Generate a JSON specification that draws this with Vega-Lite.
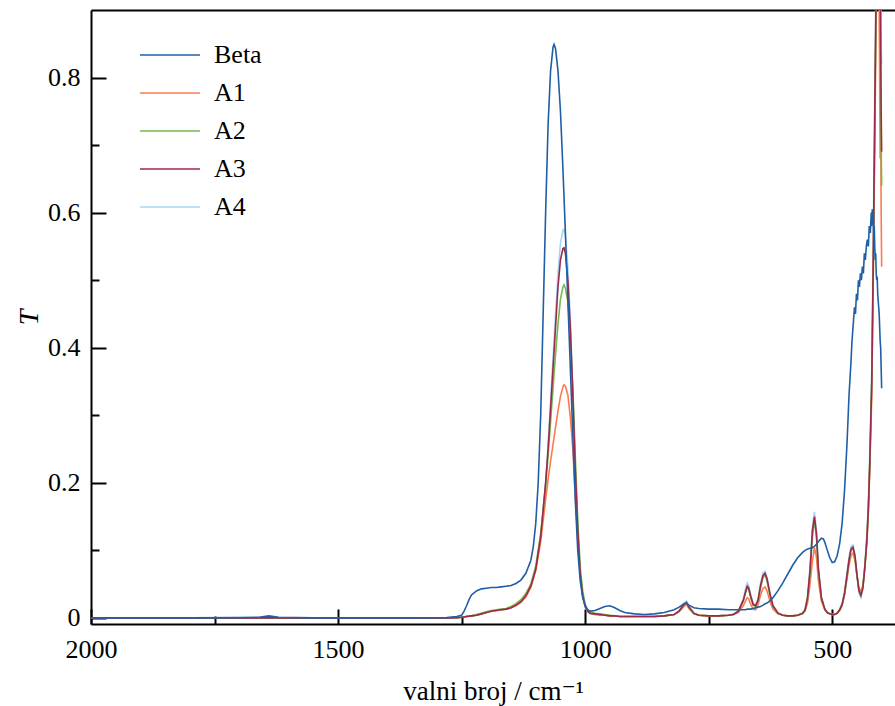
{
  "$schema": "https://vega.github.io/schema/vega-lite/v6.json",
  "width": 804,
  "height": 614,
  "autosize": {"type": "none"},
  "padding": {"left": 91, "top": 10, "right": 0, "bottom": 82},
  "background": "white",
  "config": {
    "view": {"stroke": null},
    "font": "'Liberation Serif', 'Times New Roman', Times, 'DejaVu Serif', serif",
    "axis": {"labelFont": "'Liberation Serif', 'Times New Roman', Times, 'DejaVu Serif', serif", "titleFont": "'Liberation Serif', 'Times New Roman', Times, 'DejaVu Serif', serif"}
  },
  "data": {"values": [
    {"w": 2000, "Beta": 0, "A1": 0, "A2": 0, "A3": 0, "A4": 0},
    {"w": 1900, "Beta": 0, "A1": 0, "A2": 0, "A3": 0, "A4": 0},
    {"w": 1800, "Beta": 0, "A1": 0, "A2": 0, "A3": 0, "A4": 0},
    {"w": 1700, "Beta": 0.0005, "A1": 0, "A2": 0, "A3": 0, "A4": 0},
    {"w": 1660, "Beta": 0.001, "A1": 0, "A2": 0, "A3": 0, "A4": 0},
    {"w": 1640, "Beta": 0.003, "A1": 0.0005, "A2": 0.0005, "A3": 0.0005, "A4": 0.0005},
    {"w": 1620, "Beta": 0.001, "A1": 0, "A2": 0, "A3": 0, "A4": 0},
    {"w": 1550, "Beta": 0, "A1": 0, "A2": 0, "A3": 0, "A4": 0},
    {"w": 1450, "Beta": 0, "A1": 0, "A2": 0, "A3": 0, "A4": 0},
    {"w": 1350, "Beta": 0, "A1": 0, "A2": 0, "A3": 0, "A4": 0},
    {"w": 1280, "Beta": 0.0005, "A1": 0, "A2": 0, "A3": 0, "A4": 0},
    {"w": 1260, "Beta": 0.002, "A1": 0.0005, "A2": 0.0005, "A3": 0.0005, "A4": 0.0005},
    {"w": 1250, "Beta": 0.004, "A1": 0.001, "A2": 0.001, "A3": 0.001, "A4": 0.001},
    {"w": 1245, "Beta": 0.01},
    {"w": 1240, "Beta": 0.018, "A1": 0.002, "A2": 0.002, "A3": 0.002, "A4": 0.002},
    {"w": 1235, "Beta": 0.027},
    {"w": 1230, "Beta": 0.034, "A1": 0.003, "A2": 0.003, "A3": 0.003, "A4": 0.003},
    {"w": 1220, "Beta": 0.04, "A1": 0.004, "A2": 0.005, "A3": 0.004, "A4": 0.004},
    {"w": 1210, "Beta": 0.043, "A1": 0.006, "A2": 0.007, "A3": 0.006, "A4": 0.006},
    {"w": 1200, "Beta": 0.044, "A1": 0.008, "A2": 0.009, "A3": 0.008, "A4": 0.008},
    {"w": 1190, "Beta": 0.045, "A1": 0.01, "A2": 0.011, "A3": 0.01, "A4": 0.01},
    {"w": 1180, "Beta": 0.045, "A1": 0.011, "A2": 0.012, "A3": 0.011, "A4": 0.011},
    {"w": 1170, "Beta": 0.046, "A1": 0.012, "A2": 0.013, "A3": 0.012, "A4": 0.012},
    {"w": 1160, "Beta": 0.047, "A1": 0.013, "A2": 0.014, "A3": 0.013, "A4": 0.013},
    {"w": 1150, "Beta": 0.048, "A1": 0.015, "A2": 0.017, "A3": 0.015, "A4": 0.015},
    {"w": 1140, "Beta": 0.051, "A1": 0.018, "A2": 0.021, "A3": 0.019, "A4": 0.019},
    {"w": 1130, "Beta": 0.056, "A1": 0.023, "A2": 0.027, "A3": 0.024, "A4": 0.024},
    {"w": 1120, "Beta": 0.066, "A1": 0.031, "A2": 0.036, "A3": 0.033, "A4": 0.033},
    {"w": 1110, "Beta": 0.085, "A1": 0.045, "A2": 0.05, "A3": 0.047, "A4": 0.047},
    {"w": 1105, "Beta": 0.105},
    {"w": 1100, "Beta": 0.14, "A1": 0.07, "A2": 0.077, "A3": 0.072, "A4": 0.072},
    {"w": 1095, "Beta": 0.2},
    {"w": 1090, "Beta": 0.3, "A1": 0.113, "A2": 0.125, "A3": 0.12, "A4": 0.12},
    {"w": 1085, "Beta": 0.45},
    {"w": 1080, "Beta": 0.6, "A1": 0.175, "A2": 0.195, "A3": 0.2, "A4": 0.2},
    {"w": 1075, "Beta": 0.73, "A1": 0.205, "A2": 0.24, "A3": 0.25, "A4": 0.255},
    {"w": 1070, "Beta": 0.81, "A1": 0.232, "A2": 0.29, "A3": 0.31, "A4": 0.32},
    {"w": 1065, "Beta": 0.845, "A1": 0.257, "A2": 0.34, "A3": 0.37, "A4": 0.385},
    {"w": 1063, "Beta": 0.849},
    {"w": 1060, "Beta": 0.843, "A1": 0.282, "A2": 0.39, "A3": 0.43, "A4": 0.45},
    {"w": 1055, "Beta": 0.81, "A1": 0.306, "A2": 0.435, "A3": 0.49, "A4": 0.51},
    {"w": 1050, "Beta": 0.75, "A1": 0.328, "A2": 0.472, "A3": 0.53, "A4": 0.555},
    {"w": 1045, "Beta": 0.665, "A1": 0.342, "A2": 0.49, "A3": 0.547, "A4": 0.574},
    {"w": 1043, "A1": 0.345, "A2": 0.493, "A3": 0.548, "A4": 0.575},
    {"w": 1040, "Beta": 0.57, "A1": 0.343, "A2": 0.488, "A3": 0.54, "A4": 0.565},
    {"w": 1035, "Beta": 0.47, "A1": 0.33, "A2": 0.468, "A3": 0.5, "A4": 0.52},
    {"w": 1030, "Beta": 0.37, "A1": 0.297, "A2": 0.42, "A3": 0.43, "A4": 0.44},
    {"w": 1025, "Beta": 0.27, "A1": 0.25, "A2": 0.34, "A3": 0.33, "A4": 0.335},
    {"w": 1020, "Beta": 0.175, "A1": 0.18, "A2": 0.24, "A3": 0.22, "A4": 0.22},
    {"w": 1015, "Beta": 0.1, "A1": 0.115, "A2": 0.145, "A3": 0.13, "A4": 0.13},
    {"w": 1010, "Beta": 0.055, "A1": 0.065, "A2": 0.075, "A3": 0.065, "A4": 0.065},
    {"w": 1005, "Beta": 0.03, "A1": 0.034, "A2": 0.04, "A3": 0.033, "A4": 0.032},
    {"w": 1000, "Beta": 0.018, "A1": 0.018, "A2": 0.02, "A3": 0.017, "A4": 0.016},
    {"w": 995, "Beta": 0.012, "A1": 0.01, "A2": 0.012, "A3": 0.01, "A4": 0.009},
    {"w": 990, "Beta": 0.01, "A1": 0.007, "A2": 0.009, "A3": 0.007, "A4": 0.006},
    {"w": 980, "Beta": 0.011, "A1": 0.005, "A2": 0.007, "A3": 0.006, "A4": 0.005},
    {"w": 970, "Beta": 0.014, "A1": 0.004, "A2": 0.006, "A3": 0.005, "A4": 0.004},
    {"w": 960, "Beta": 0.017, "A1": 0.004, "A2": 0.005, "A3": 0.004, "A4": 0.004},
    {"w": 950, "Beta": 0.018, "A1": 0.003, "A2": 0.004, "A3": 0.003, "A4": 0.003},
    {"w": 940, "Beta": 0.015, "A1": 0.003, "A2": 0.003, "A3": 0.003, "A4": 0.003},
    {"w": 930, "Beta": 0.011, "A1": 0.002, "A2": 0.002, "A3": 0.002, "A4": 0.002},
    {"w": 920, "Beta": 0.008, "A1": 0.002, "A2": 0.002, "A3": 0.002, "A4": 0.002},
    {"w": 900, "Beta": 0.006, "A1": 0.002, "A2": 0.002, "A3": 0.002, "A4": 0.002},
    {"w": 880, "Beta": 0.005, "A1": 0.002, "A2": 0.002, "A3": 0.002, "A4": 0.002},
    {"w": 860, "Beta": 0.006, "A1": 0.002, "A2": 0.002, "A3": 0.002, "A4": 0.002},
    {"w": 840, "Beta": 0.008, "A1": 0.003, "A2": 0.003, "A3": 0.003, "A4": 0.003},
    {"w": 820, "Beta": 0.012, "A1": 0.005, "A2": 0.005, "A3": 0.005, "A4": 0.005},
    {"w": 810, "Beta": 0.016, "A1": 0.009, "A2": 0.01, "A3": 0.01, "A4": 0.011},
    {"w": 800, "Beta": 0.021, "A1": 0.017, "A2": 0.019, "A3": 0.02, "A4": 0.022},
    {"w": 795, "Beta": 0.022, "A1": 0.02, "A2": 0.022, "A3": 0.023, "A4": 0.025},
    {"w": 790, "Beta": 0.019, "A1": 0.014, "A2": 0.015, "A3": 0.016, "A4": 0.018},
    {"w": 780, "Beta": 0.015, "A1": 0.006, "A2": 0.006, "A3": 0.007, "A4": 0.007},
    {"w": 770, "Beta": 0.014, "A1": 0.004, "A2": 0.004, "A3": 0.004, "A4": 0.004},
    {"w": 750, "Beta": 0.013, "A1": 0.003, "A2": 0.003, "A3": 0.003, "A4": 0.003},
    {"w": 730, "Beta": 0.013, "A1": 0.003, "A2": 0.003, "A3": 0.003, "A4": 0.003},
    {"w": 710, "Beta": 0.012, "A1": 0.004, "A2": 0.004, "A3": 0.004, "A4": 0.004},
    {"w": 700, "Beta": 0.012, "A1": 0.005, "A2": 0.005, "A3": 0.005, "A4": 0.006},
    {"w": 690, "Beta": 0.012, "A1": 0.008, "A2": 0.01, "A3": 0.01, "A4": 0.011},
    {"w": 680, "Beta": 0.012, "A1": 0.018, "A2": 0.025, "A3": 0.026, "A4": 0.028},
    {"w": 675, "Beta": 0.012, "A1": 0.026, "A2": 0.038, "A3": 0.04, "A4": 0.045},
    {"w": 672, "Beta": 0.013, "A1": 0.03, "A2": 0.045, "A3": 0.047, "A4": 0.052},
    {"w": 669, "Beta": 0.013, "A1": 0.028, "A2": 0.042, "A3": 0.044, "A4": 0.048},
    {"w": 665, "Beta": 0.013, "A1": 0.02, "A2": 0.03, "A3": 0.032, "A4": 0.035},
    {"w": 660, "Beta": 0.014, "A1": 0.013, "A2": 0.019, "A3": 0.02, "A4": 0.021},
    {"w": 655, "Beta": 0.015, "A1": 0.012, "A2": 0.017, "A3": 0.018, "A4": 0.019},
    {"w": 650, "Beta": 0.016, "A1": 0.02, "A2": 0.026, "A3": 0.027, "A4": 0.029},
    {"w": 645, "Beta": 0.017, "A1": 0.034, "A2": 0.045, "A3": 0.048, "A4": 0.052},
    {"w": 640, "Beta": 0.019, "A1": 0.044, "A2": 0.06, "A3": 0.063, "A4": 0.067},
    {"w": 636, "Beta": 0.021, "A1": 0.046, "A2": 0.064, "A3": 0.066, "A4": 0.069},
    {"w": 632, "Beta": 0.022, "A1": 0.04, "A2": 0.055, "A3": 0.058, "A4": 0.06},
    {"w": 625, "Beta": 0.026, "A1": 0.022, "A2": 0.03, "A3": 0.032, "A4": 0.033},
    {"w": 620, "Beta": 0.03, "A1": 0.013, "A2": 0.017, "A3": 0.018, "A4": 0.019},
    {"w": 610, "Beta": 0.04, "A1": 0.006, "A2": 0.007, "A3": 0.007, "A4": 0.008},
    {"w": 600, "Beta": 0.052, "A1": 0.004, "A2": 0.004, "A3": 0.004, "A4": 0.004},
    {"w": 590, "Beta": 0.065, "A1": 0.003, "A2": 0.003, "A3": 0.003, "A4": 0.003},
    {"w": 580, "Beta": 0.078, "A1": 0.003, "A2": 0.003, "A3": 0.003, "A4": 0.003},
    {"w": 570, "Beta": 0.089, "A1": 0.004, "A2": 0.004, "A3": 0.004, "A4": 0.004},
    {"w": 560, "Beta": 0.097, "A1": 0.006, "A2": 0.006, "A3": 0.007, "A4": 0.007},
    {"w": 555, "Beta": 0.1, "A1": 0.01, "A2": 0.011, "A3": 0.012, "A4": 0.013},
    {"w": 550, "Beta": 0.102, "A1": 0.022, "A2": 0.028, "A3": 0.03, "A4": 0.032},
    {"w": 545, "Beta": 0.103, "A1": 0.05, "A2": 0.065, "A3": 0.07, "A4": 0.075},
    {"w": 540, "Beta": 0.104, "A1": 0.085, "A2": 0.12, "A3": 0.13, "A4": 0.135},
    {"w": 536, "Beta": 0.106, "A1": 0.104, "A2": 0.145, "A3": 0.15, "A4": 0.157},
    {"w": 532, "Beta": 0.109, "A1": 0.09, "A2": 0.12, "A3": 0.125, "A4": 0.13},
    {"w": 528, "Beta": 0.113, "A1": 0.055, "A2": 0.07, "A3": 0.072, "A4": 0.075},
    {"w": 522, "Beta": 0.118, "A1": 0.025, "A2": 0.03, "A3": 0.03, "A4": 0.032},
    {"w": 518, "Beta": 0.117},
    {"w": 515, "Beta": 0.112, "A1": 0.012, "A2": 0.012, "A3": 0.013, "A4": 0.013},
    {"w": 510, "Beta": 0.1, "A1": 0.008, "A2": 0.008, "A3": 0.008, "A4": 0.008},
    {"w": 505, "Beta": 0.089, "A1": 0.006, "A2": 0.006, "A3": 0.006, "A4": 0.006},
    {"w": 500, "Beta": 0.082, "A1": 0.005, "A2": 0.005, "A3": 0.005, "A4": 0.005},
    {"w": 495, "Beta": 0.083, "A1": 0.005, "A2": 0.005, "A3": 0.005, "A4": 0.005},
    {"w": 490, "Beta": 0.092, "A1": 0.007, "A2": 0.007, "A3": 0.007, "A4": 0.007},
    {"w": 485, "Beta": 0.11, "A1": 0.011, "A2": 0.011, "A3": 0.012, "A4": 0.013},
    {"w": 480, "Beta": 0.14, "A1": 0.019, "A2": 0.019, "A3": 0.02, "A4": 0.022},
    {"w": 475, "Beta": 0.19, "A1": 0.035, "A2": 0.035, "A3": 0.037, "A4": 0.04},
    {"w": 470, "Beta": 0.26, "A1": 0.058, "A2": 0.062, "A3": 0.064, "A4": 0.068},
    {"w": 466, "Beta": 0.33, "A1": 0.078, "A2": 0.084, "A3": 0.086, "A4": 0.09},
    {"w": 462, "Beta": 0.38, "A1": 0.092, "A2": 0.1, "A3": 0.102, "A4": 0.106},
    {"w": 460, "Beta": 0.41},
    {"w": 458, "A1": 0.096, "A2": 0.103, "A3": 0.105, "A4": 0.108},
    {"w": 457, "Beta": 0.44},
    {"w": 455, "Beta": 0.46},
    {"w": 454, "A1": 0.085, "A2": 0.09, "A3": 0.092, "A4": 0.094},
    {"w": 453, "Beta": 0.45},
    {"w": 451, "Beta": 0.48},
    {"w": 450, "A1": 0.062, "A2": 0.064, "A3": 0.064, "A4": 0.063},
    {"w": 449, "Beta": 0.47},
    {"w": 447, "Beta": 0.5},
    {"w": 446, "A1": 0.045, "A2": 0.042, "A3": 0.04, "A4": 0.037},
    {"w": 445, "Beta": 0.49},
    {"w": 443, "Beta": 0.51},
    {"w": 442, "A1": 0.039, "A2": 0.036, "A3": 0.033, "A4": 0.03},
    {"w": 441, "Beta": 0.5},
    {"w": 439, "Beta": 0.52},
    {"w": 438, "A1": 0.048, "A2": 0.046, "A3": 0.044, "A4": 0.043},
    {"w": 437, "Beta": 0.51},
    {"w": 435, "Beta": 0.54},
    {"w": 434, "A1": 0.075, "A2": 0.075, "A3": 0.075, "A4": 0.08},
    {"w": 433, "Beta": 0.53},
    {"w": 431, "Beta": 0.55},
    {"w": 430, "A1": 0.11, "A2": 0.115, "A3": 0.115, "A4": 0.125},
    {"w": 429, "Beta": 0.56},
    {"w": 427, "Beta": 0.55, "A1": 0.155, "A2": 0.16, "A3": 0.16, "A4": 0.17},
    {"w": 425, "Beta": 0.58},
    {"w": 424, "A1": 0.22, "A2": 0.23, "A3": 0.23, "A4": 0.245},
    {"w": 423, "Beta": 0.57},
    {"w": 421, "Beta": 0.6},
    {"w": 420, "Beta": 0.58, "A1": 0.33, "A2": 0.35, "A3": 0.35, "A4": 0.37},
    {"w": 419, "Beta": 0.605},
    {"w": 418, "Beta": 0.59},
    {"w": 417, "Beta": 0.6, "A1": 0.5, "A2": 0.52, "A3": 0.53, "A4": 0.56},
    {"w": 416, "Beta": 0.57},
    {"w": 415, "Beta": 0.58},
    {"w": 414, "Beta": 0.55, "A1": 0.7, "A2": 0.72, "A3": 0.74, "A4": 0.78},
    {"w": 413, "Beta": 0.53},
    {"w": 412, "Beta": 0.54},
    {"w": 411, "Beta": 0.51, "A1": 0.9, "A2": 0.93, "A3": 0.95, "A4": 0.98},
    {"w": 410, "Beta": 0.5},
    {"w": 409, "Beta": 0.505},
    {"w": 408, "Beta": 0.48, "A1": 1.05, "A2": 1.1, "A3": 1.12, "A4": 1.15},
    {"w": 407, "Beta": 0.47},
    {"w": 406, "Beta": 0.46},
    {"w": 405, "Beta": 0.45, "A1": 0.9, "A2": 1.15, "A3": 1.2, "A4": 1.2},
    {"w": 404, "Beta": 0.43},
    {"w": 403, "Beta": 0.41, "A1": 0.68, "A2": 0.95, "A3": 1.05, "A4": 1.1},
    {"w": 402, "Beta": 0.4, "A1": 0.75, "A2": 0.8, "A3": 0.85, "A4": 0.95},
    {"w": 401, "Beta": 0.37, "A1": 0.6, "A2": 0.7, "A3": 0.75, "A4": 0.85},
    {"w": 400, "Beta": 0.34, "A1": 0.52, "A2": 0.64, "A3": 0.69, "A4": 0.82}
  ]},
  "transform": [
    {"fold": ["A4", "A1", "A2", "A3", "Beta"], "as": ["series", "T"]},
    {"filter": "isValid(datum.T)"}
  ],
  "mark": {"type": "line", "clip": true, "strokeWidth": 1.6, "invalid": "filter"},
  "encoding": {
    "x": {
      "field": "w", "type": "quantitative",
      "scale": {"domain": [2000, 373], "nice": false, "zero": false},
      "axis": {
        "values": [2000, 1750, 1500, 1250, 1000, 750, 500],
        "labelExpr": "datum.value % 500 === 0 ? datum.label : ''",
        "format": "d",
        "labelFlush": false,
        "labelOverlap": false,
        "grid": false,
        "domainColor": "black", "domainWidth": 2,
        "tickColor": "black", "tickWidth": 2,
        "tickSize": {"condition": {"test": "datum.value % 500 === 0", "value": -15}, "value": -8},
        "labelPadding": 27,
        "labelFontSize": 26, "labelColor": "black",
        "title": "valni broj / cm⁻¹",
        "titleFontSize": 27, "titleFontWeight": "normal", "titleColor": "black",
        "titlePadding": 9
      }
    },
    "y": {
      "field": "T", "type": "quantitative",
      "scale": {"domain": [-0.009, 0.9], "nice": false, "zero": false},
      "axis": {
        "values": [0, 0.1, 0.2, 0.3, 0.4, 0.5, 0.6, 0.7, 0.8, 0.9],
        "labelExpr": "datum.value > 0.85 ? '' : (round(datum.value * 10) % 2 === 0 ? (datum.value === 0 ? '0' : format(datum.value, '.1f')) : '')",
        "labelOverlap": false,
        "labelFlush": false,
        "grid": true,
        "gridColor": "black",
        "gridWidth": 2,
        "gridOpacity": {"condition": {"test": "datum.value > 0.85", "value": 1}, "value": 0},
        "domainColor": "black", "domainWidth": 2,
        "tickColor": "black", "tickWidth": 2,
        "tickOpacity": {"condition": {"test": "datum.value > 0.85", "value": 0}, "value": 1},
        "tickSize": {"condition": {"test": "round(datum.value * 10) % 2 === 0", "value": -15}, "value": -8},
        "labelPadding": 26,
        "labelFontSize": 26, "labelColor": "black",
        "title": "T",
        "titleFontSize": 28, "titleFontStyle": "italic", "titleFontWeight": "normal", "titleColor": "black",
        "titlePadding": 4
      }
    },
    "color": {
      "field": "series", "type": "nominal",
      "scale": {"domain": ["Beta", "A1", "A2", "A3", "A4"], "range": ["#1f5fa6", "#fb7a4f", "#77b84e", "#9b2a4a", "#a8d4f2"]},
      "legend": {
        "orient": "none", "legendX": 66, "legendY": 32, "title": null,
        "symbolType": "M-6,0H6", "symbolSize": 100, "symbolStrokeWidth": 1.6,
        "labelFontSize": 26, "labelColor": "black",
        "labelOffset": 31, "rowPadding": 12, "padding": 0
      }
    },
    "strokeWidth": {
      "field": "series", "type": "nominal",
      "scale": {"domain": ["Beta", "A1", "A2", "A3", "A4"], "range": [1.6, 1.6, 1.6, 1.6, 2.6]},
      "legend": null
    }
  }
}
